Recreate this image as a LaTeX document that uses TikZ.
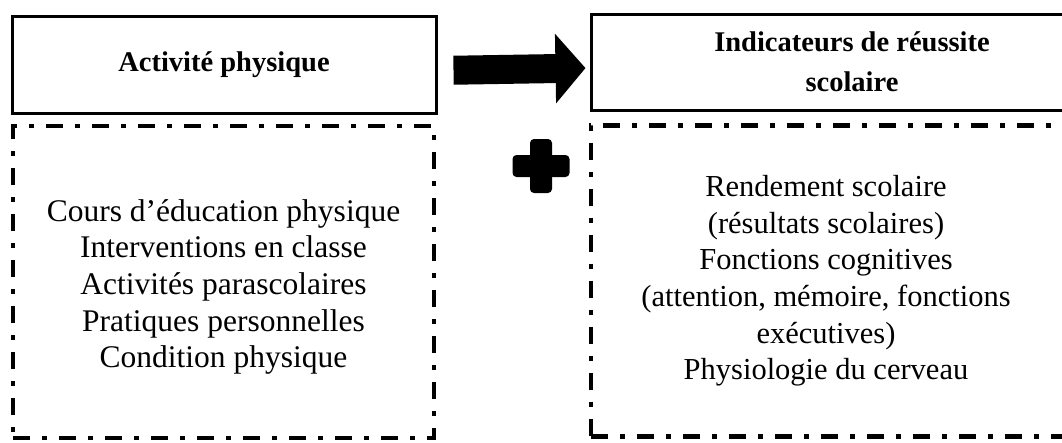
\documentclass[tikz,border=0pt]{standalone}
\usepackage{fontspec}
\setmainfont{Liberation Serif}
\usetikzlibrary{arrows.meta}

\begin{document}
\begin{tikzpicture}[x=1pt, y=-1pt,
  titlebox/.style={draw=black, line width=3pt, inner sep=0pt, align=center,
    font=\fontsize{28.5}{40}\bfseries\selectfont},
  listbox/.style={draw=black, line width=4.5pt, inner sep=0pt,
    dash pattern=on 17pt off 12pt on 5pt off 12pt},
  listtext/.style={inner sep=0pt, align=center},
  plusarm/.style={fill=black, rounded corners=4pt, inner sep=0pt},
  bigarrow/.style={line width=29pt,
    -{Triangle[length=30pt, width=68pt]}}
]
\useasboundingbox (0,0) rectangle (1062,442);

% left column
\node[titlebox, minimum width=424pt, minimum height=97pt] (act) at (224,64.5)
  {Activité physique};
\node[listbox, minimum width=421pt, minimum height=312pt] (actlist) at (223.5,282) {};
\node[listtext, font=\fontsize{31.5}{36.6}\selectfont] (actitems)
  at ([yshift=-5pt]actlist.center)
  {Cours d’éducation physique\\
   Interventions en classe\\
   Activités parascolaires\\
   Pratiques personnelles\\
   Condition physique};

% right column (runs past the right margin)
\node[titlebox, minimum width=522pt, minimum height=96pt] (ind) at (852,62)
  {Indicateurs de réussite\\scolaire};
\node[listbox, minimum width=480pt, minimum height=311pt] (indlist) at (831,281) {};
\node[listtext, font=\fontsize{30.5}{36.6}\selectfont] (inditems)
  at ([xshift=-5pt]indlist.center)
  {Rendement scolaire\\
   (résultats scolaires)\\
   Fonctions cognitives\\
   (attention, mémoire, fonctions\\
   exécutives)\\
   Physiologie du cerveau};

% arrow between the two title boxes
\draw[bigarrow, shorten <=16pt, shorten >=4pt]
  ([yshift=-6pt]act.east) -- ([yshift=-6pt]ind.west);

% plus sign
\node[plusarm, minimum width=57pt, minimum height=22pt] (plush) at (541,166) {};
\node[plusarm, minimum width=22pt, minimum height=54pt] (plusv) at (541,166) {};
\end{tikzpicture}
\end{document}
